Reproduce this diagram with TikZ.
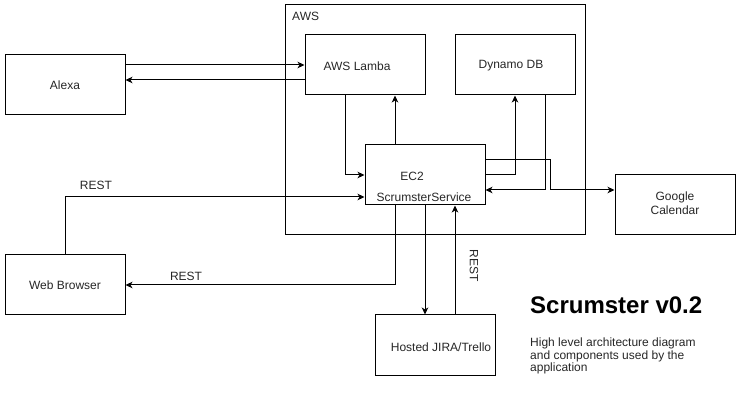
\documentclass[tikz,border=0pt]{standalone}
\usepackage{fontspec}
\setmainfont{Liberation Sans}
\usetikzlibrary{arrows.meta}
\begin{document}
\begin{tikzpicture}[x=1pt,y=-1pt,
  box/.style={draw=black,line width=1pt,minimum width=120pt,minimum height=60pt,inner sep=0pt,
              font=\fontsize{12}{14}\selectfont,text=black!85,align=center},
  lbl/.style={inner sep=0pt,font=\fontsize{12}{14}\selectfont,text=black!85},
  wire/.style={line width=1pt,draw=black},
  arr/.style={wire,-{Stealth[length=7pt,width=6.5pt,inset=2pt]}}]
\useasboundingbox (0,0) rectangle (741,411);
\node[draw=black,line width=1pt,minimum width=300pt,minimum height=230pt,inner sep=0pt] (aws) at (435,120) {};
\node[lbl,anchor=west] (awslbl) at (292,16) {AWS};
\node[box] (alexa) at (65,85) {Alexa};
\node[box] (lambda) at (365,65) {};
\node[lbl] (lambdalbl) at (357,66) {AWS Lamba};
\node[box] (dynamo) at (515,65) {};
\node[lbl] (dynamolbl) at (511,66) {Dynamo DB};
\node[box] (ec2) at (425,175) {};
\node[lbl] (ec2lbl) at (412,176) {EC2};
\node[lbl] (svclbl) at (424,197) {ScrumsterService};
\node[box] (gcal) at (675,205) {};
\node[lbl,align=center,font=\fontsize{12}{14}\selectfont] (gcallbl) at (675,203) {Google\\Calendar};
\node[box] (web) at (65,285) {Web Browser};
\node[box] (jira) at (435,345) {};
\node[lbl] (jiralbl) at (441,347) {Hosted JIRA/Trello};

% Alexa <-> Lambda
\draw[arr] ([yshift=20pt]alexa.east) -- (lambda.west);
\draw[arr] ([yshift=-15pt]lambda.west) -- ([yshift=5pt]alexa.east);
% Lambda <-> EC2
\draw[arr] ([xshift=-20pt]lambda.south) |- (ec2.west);
\draw[arr] ([xshift=-30pt]ec2.north) -- ([xshift=30pt]lambda.south);
% EC2 <-> Dynamo
\draw[arr] (ec2.east) -| (dynamo.south);
\draw[arr] ([xshift=30pt]dynamo.south) |- ([yshift=-15pt]ec2.east);
% EC2 -> Google Calendar
\draw[arr] ([yshift=15pt]ec2.east) -- ++(65,0) |- ([yshift=15pt]gcal.west);
% Web <-> EC2
\draw[arr] (web.north) |- ([yshift=-22pt]ec2.west);
\draw[arr] ([xshift=-30pt]ec2.south) |- (web.east);
% EC2 <-> JIRA
\draw[arr] (ec2.south) -- (ec2.south |- jira.north);
\draw[arr] ([xshift=20pt]jira.north) -- ([xshift=20pt]jira.north |- ec2.south);

\node[lbl] (rest1) at (96,185) {REST};
\node[lbl] (rest2) at (186,276) {REST};
\node[lbl,rotate=-90] (rest3) at (474,266) {REST};

\node[anchor=west,inner sep=0pt,font=\fontsize{24}{28}\bfseries\selectfont] (title) at (530,305) {Scrumster v0.2};
\node[anchor=west,inner sep=0pt,align=left,text=black!85,font=\fontsize{12}{12.5}\selectfont] (desc) at (530,356)
  {High level architecture diagram\\and components used by the\\application};
\end{tikzpicture}
\end{document}
